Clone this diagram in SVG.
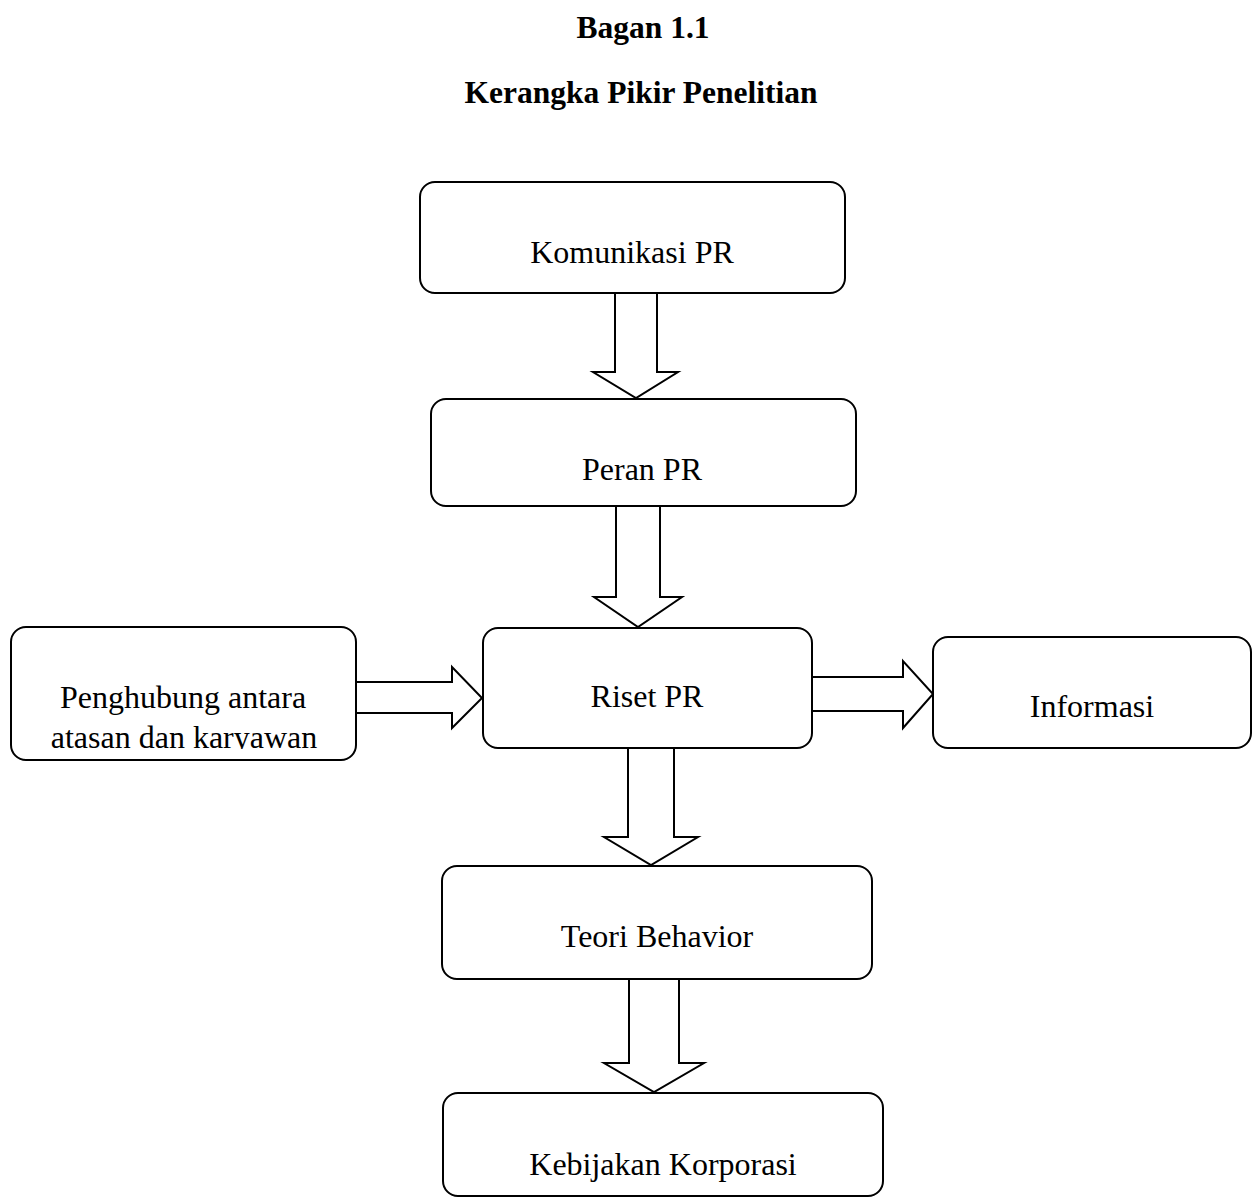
<svg xmlns="http://www.w3.org/2000/svg" width="1255" height="1199" viewBox="0 0 1255 1199">
<style>
.box{fill:#fff;stroke:#000;stroke-width:2}
.arr{fill:#fff;stroke:#000;stroke-width:2;stroke-linejoin:miter}
.t{font-family:"Liberation Serif","Times New Roman",serif;font-size:32px;fill:#000;text-anchor:middle}
.h{font-family:"Liberation Serif","Times New Roman",serif;font-size:31.5px;font-weight:bold;fill:#000;text-anchor:middle}
</style>
<defs>
<clipPath id="clipL"><rect x="12" y="628" width="344" height="121"/></clipPath>
</defs>
<rect width="1255" height="1199" fill="#fff"/>
<g id="title">
<text class="h" x="643" y="38">Bagan 1.1</text>
<text class="h" x="641" y="103">Kerangka Pikir Penelitian</text>
</g>
<g id="connectors">
<polygon class="arr" points="615,293 657,293 657,372 678,372 636,398 593,372 615,372"/>
<polygon class="arr" points="616,506 660,506 660,597 682,597 638,627 594,597 616,597"/>
<polygon class="arr" points="356,682 452,682 452,667 482,698 452,728 452,713 356,713"/>
<polygon class="arr" points="812,677 903,677 903,661 933,694 903,728 903,711 812,711"/>
<polygon class="arr" points="628,748 674,748 674,837 698,837 651,865 604,837 628,837"/>
<polygon class="arr" points="629,979 679,979 679,1063 704,1063 654,1092 604,1063 629,1063"/>
</g>
<g id="node-komunikasi">
<rect class="box" x="420" y="182" width="425" height="111" rx="15"/>
<text class="t" x="632" y="263">Komunikasi PR</text>
</g>
<g id="node-peran">
<rect class="box" x="431" y="399" width="425" height="107" rx="15"/>
<text class="t" x="642" y="480">Peran PR</text>
</g>
<g id="node-riset">
<rect class="box" x="483" y="628" width="329" height="120" rx="15"/>
<text class="t" x="647" y="707">Riset PR</text>
</g>
<g id="node-penghubung">
<rect class="box" x="11" y="627" width="345" height="133" rx="15"/>
<g clip-path="url(#clipL)">
<text class="t" x="183" y="708">Penghubung antara</text>
<text class="t" x="184" y="748">atasan dan karyawan</text>
</g>
</g>
<g id="node-informasi">
<rect class="box" x="933" y="637" width="318" height="111" rx="15"/>
<text class="t" x="1092" y="717">Informasi</text>
</g>
<g id="node-teori">
<rect class="box" x="442" y="866" width="430" height="113" rx="15"/>
<text class="t" x="657" y="947">Teori Behavior</text>
</g>
<g id="node-kebijakan">
<rect class="box" x="443" y="1093" width="440" height="103" rx="15"/>
<text class="t" x="663" y="1175">Kebijakan Korporasi</text>
</g>
</svg>
